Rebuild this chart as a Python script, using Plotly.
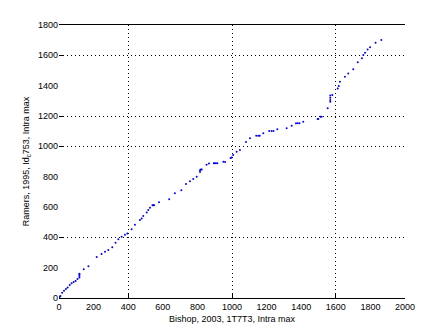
import plotly.graph_objects as go

# Data (sorted values, Bishop vs Ramers)
bishop_x = [0, 4, 8, 18, 29, 40, 50, 62, 73, 85, 96, 107, 118, 118, 118, 118, 143, 170, 218, 246, 266,
            285, 308, 327, 343, 362, 381, 395, 420, 439, 468, 478, 487, 507, 516, 526, 540, 545, 550,
            578, 637, 670, 707, 734, 757, 776, 796, 815, 815, 820, 825, 853, 867, 895, 900, 907, 915,
            950, 960, 992, 998, 1007, 1027, 1046, 1081, 1104, 1140, 1152, 1160, 1181, 1215, 1229, 1240,
            1262, 1316, 1345, 1370, 1380, 1390, 1412, 1495, 1499, 1512, 1518, 1553, 1568, 1568, 1568,
            1568, 1580, 1611, 1617, 1624, 1653, 1672, 1701, 1727, 1751, 1759, 1769, 1784, 1798, 1830, 1863]
ramers_y = [0, 8, 13, 35, 48, 60, 70, 85, 97, 105, 112, 125, 135, 145, 155, 160, 189, 209, 270, 290, 305,
            316, 334, 365, 387, 404, 417, 426, 453, 483, 514, 525, 541, 563, 580, 595, 611, 611, 611,
            631, 651, 690, 710, 752, 769, 785, 800, 830, 842, 848, 848, 879, 886, 888, 888, 888, 888,
            899, 897, 923, 927, 943, 965, 976, 1028, 1053, 1070, 1070, 1070, 1086, 1101, 1101, 1101,
            1112, 1119, 1136, 1152, 1152, 1152, 1162, 1180, 1180, 1195, 1195, 1251, 1294, 1305, 1320,
            1335, 1338, 1382, 1398, 1426, 1459, 1481, 1508, 1554, 1580, 1602, 1617, 1639, 1653, 1683, 1701]

x_ticks = [0, 200, 400, 600, 800, 1000, 1200, 1400, 1600, 1800, 2000]
y_ticks = [0, 200, 400, 600, 800, 1000, 1200, 1400, 1600, 1800]
x_grid = [400, 1000, 1600]
y_grid = [400, 1000, 1200, 1600]

fig = go.Figure()
fig.add_trace(go.Scatter(
    x=bishop_x, y=ramers_y, mode="markers",
    marker=dict(color="#0000ff", size=2, line=dict(width=0)),
    showlegend=False, hoverinfo="skip",
))

font = dict(family="Liberation Sans, Arial, sans-serif", size=9, color="black")

fig.update_layout(
    width=447, height=335,
    margin=dict(l=59, r=42, t=25, b=37),
    paper_bgcolor="white", plot_bgcolor="white",
    font=font,
    xaxis=dict(
        range=[0, 2000], tickmode="array", tickvals=x_ticks,
        ticktext=[str(v) for v in x_ticks],
        showgrid=False, zeroline=False,
        showline=True, linecolor="black", linewidth=1, mirror=True,
        ticks="", tickfont=font,
        minor=dict(tickmode="array", tickvals=x_grid, showgrid=True,
                   gridcolor="black", griddash="1px,3px", gridwidth=1,
                   ticks="inside", ticklen=5, tickcolor="black"),
        title=dict(text="Bishop, 2003, 1T7T3, Intra max", font=font, standoff=4),
    ),
    yaxis=dict(
        range=[0, 1800], tickmode="array", tickvals=y_ticks,
        ticktext=[str(v) for v in y_ticks],
        showgrid=False, zeroline=False, showline=False,
        ticks="", tickfont=font,
        minor=dict(tickmode="array", tickvals=y_grid, showgrid=True,
                   gridcolor="black", griddash="1px,3px", gridwidth=1,
                   ticks="inside", ticklen=5, tickcolor="black"),
        title=dict(text="Ramers, 1995, Id<sub>c</sub>753, Intra max", font=font, standoff=6),
    ),
)

fig.write_html("out.html")
